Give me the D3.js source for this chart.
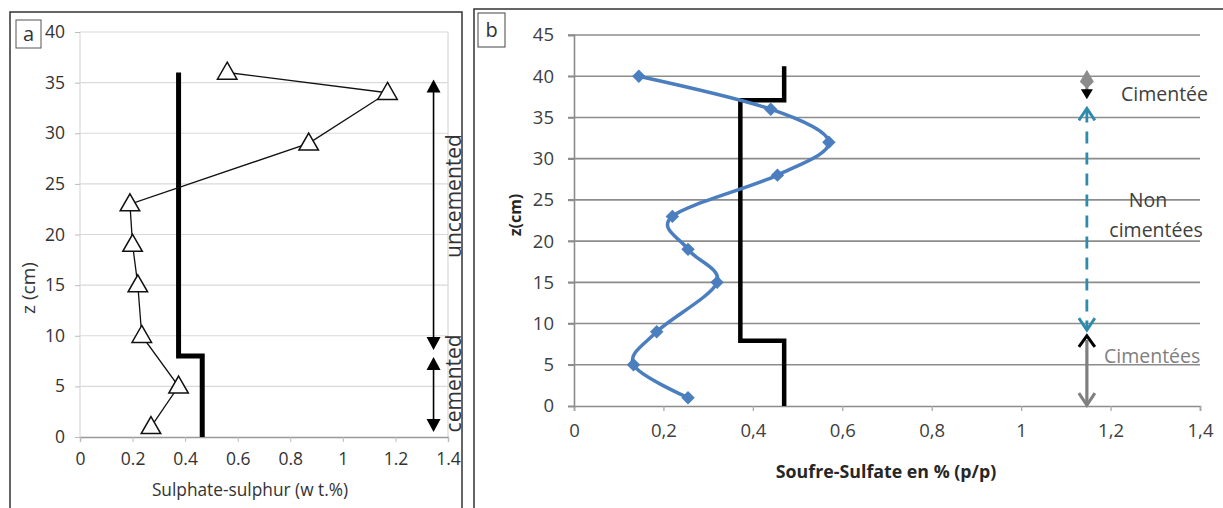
<!DOCTYPE html>
<html lang="en">
<head>
    <meta charset="UTF-8">
    <title>Sulphate-sulphur profiles</title>
    <script src="https://d3js.org/d3.v7.min.js"></script>
    <style>
        body { margin: 0; background: #fff; }
        text { font-family: "Open Sans", sans-serif; }
        .grid-a { stroke: #d9d9d9; stroke-width: 1.2; }
        .grid-b { stroke: #8c8c8c; stroke-width: 1.6; }
    </style>
</head>
<body>
    <script>
        // ---- data: panel a ----
        const aSeries = [
            { s: 0.56, z: 36 }, { s: 1.17, z: 34 }, { s: 0.87, z: 29 },
            { s: 0.19, z: 23 }, { s: 0.20, z: 19 }, { s: 0.22, z: 15 },
            { s: 0.235, z: 10 }, { s: 0.375, z: 5 }, { s: 0.27, z: 1 }
        ];
        const aStep = [
            { s: 0.375, z: 36 }, { s: 0.375, z: 8 }, { s: 0.465, z: 8 }, { s: 0.465, z: 0 }
        ];
        const aXTicks = [0, 0.2, 0.4, 0.6, 0.8, 1, 1.2, 1.4];
        const aYTicks = [0, 5, 10, 15, 20, 25, 30, 35, 40];
        const aArrows = [
            { s: 1.345, top: 35.3, bottom: 8.6 },
            { s: 1.345, top: 7.9, bottom: 0.5 }
        ];
        const aZones = [
            { label: "uncemented", z: 23.8 },
            { label: "cemented", z: 5.3 }
        ];

        // ---- data: panel b ----
        const bSeries = [
            { s: 0.145, z: 40 }, { s: 0.44, z: 36 }, { s: 0.57, z: 32 },
            { s: 0.455, z: 28 }, { s: 0.22, z: 23 }, { s: 0.255, z: 19 },
            { s: 0.32, z: 15 }, { s: 0.185, z: 9 }, { s: 0.133, z: 5 },
            { s: 0.255, z: 1 }
        ];
        const bStep = [
            { s: 0.47, z: 41.2 }, { s: 0.47, z: 37.1 }, { s: 0.372, z: 37.1 },
            { s: 0.372, z: 7.9 }, { s: 0.47, z: 7.9 }, { s: 0.47, z: 0 }
        ];
        const bXTicks = [0, 0.2, 0.4, 0.6, 0.8, 1, 1.2, 1.4];
        const bYTicks = [0, 5, 10, 15, 20, 25, 30, 35, 40, 45];
        const bArrowX = 1.147;

        const width = 1223, height = 508;
        const svg = d3.select("body").append("svg")
            .attr("width", width)
            .attr("height", height);

        // ================= panel a =================
        svg.append("rect").attr("x", 10).attr("y", 12).attr("width", 452).attr("height", 510)
            .attr("fill", "none").attr("stroke", "#333").attr("stroke-width", 1.5);
        svg.append("rect").attr("x", 16).attr("y", 20).attr("width", 25).attr("height", 28)
            .attr("fill", "none").attr("stroke", "#555").attr("stroke-width", 1);
        svg.append("text").attr("x", 28.5).attr("y", 41).attr("text-anchor", "middle")
            .attr("font-size", 20).attr("fill", "#333").text("a");

        const ax = d3.scaleLinear().domain([0, 1.4]).range([80, 448]);
        const ay = d3.scaleLinear().domain([0, 40]).range([437, 32]);
        const ga = svg.append("g");

        ga.selectAll(".grid-a").data(aYTicks.filter(d => d > 0)).enter().append("line")
            .attr("class", "grid-a")
            .attr("x1", ax(0)).attr("x2", ax(1.4))
            .attr("y1", d => ay(d)).attr("y2", d => ay(d));
        ga.append("line").attr("class", "grid-a")
            .attr("x1", ax(1.4)).attr("x2", ax(1.4)).attr("y1", ay(40)).attr("y2", ay(0));
        ga.append("line").attr("class", "grid-a")
            .attr("x1", ax(0)).attr("x2", ax(0)).attr("y1", ay(40)).attr("y2", ay(0));

        const aXAxis = ga.append("g").attr("transform", `translate(0,${ay(0)})`)
            .call(d3.axisBottom(ax).tickValues(aXTicks).tickSize(5).tickPadding(11)
                .tickFormat(d3.format("~g")));
        aXAxis.select(".domain").attr("stroke", "#999").attr("stroke-width", 1.3);
        aXAxis.selectAll(".tick line").attr("stroke", "#bbb");
        aXAxis.selectAll("text").attr("font-size", 17.5).attr("fill", "#333")
            .attr("font-family", "Open Sans, sans-serif");

        const aYAxis = ga.append("g").attr("transform", `translate(${ax(0)},0)`)
            .call(d3.axisLeft(ay).tickValues(aYTicks).tickSize(5).tickPadding(10));
        aYAxis.select(".domain").remove();
        aYAxis.selectAll(".tick line").attr("stroke", "#bbb");
        aYAxis.selectAll("text").attr("font-size", 17.5).attr("fill", "#333")
            .attr("font-family", "Open Sans, sans-serif");

        svg.append("text").attr("x", 250).attr("y", 496).attr("text-anchor", "middle")
            .attr("font-size", 17.3).attr("fill", "#333").text("Sulphate-sulphur (w t.%)");
        svg.append("text").attr("transform", "translate(35,288) rotate(-90)")
            .attr("text-anchor", "middle").attr("font-size", 19).attr("fill", "#333").text("z (cm)");

        // thick step line
        ga.append("path").datum(aStep)
            .attr("d", d3.line().x(d => ax(d.s)).y(d => ay(d.z)))
            .attr("fill", "none").attr("stroke", "#000").attr("stroke-width", 5)
            .attr("stroke-linejoin", "miter");

        // triangle series
        ga.append("path").datum(aSeries)
            .attr("d", d3.line().x(d => ax(d.s)).y(d => ay(d.z)))
            .attr("fill", "none").attr("stroke", "#111").attr("stroke-width", 1.3);
        ga.selectAll(".tri").data(aSeries).enter().append("path")
            .attr("class", "tri")
            .attr("transform", d => `translate(${ax(d.s)},${ay(d.z) + 1})`)
            .attr("d", d3.symbol().type(d3.symbolTriangle).size(165))
            .attr("fill", "#fff").attr("stroke", "#111").attr("stroke-width", 1.5);

        // zone arrows
        aArrows.forEach(a => {
            const x = ax(a.s), y1 = ay(a.top), y2 = ay(a.bottom);
            ga.append("line").attr("x1", x).attr("x2", x).attr("y1", y1 + 10).attr("y2", y2 - 10)
                .attr("stroke", "#000").attr("stroke-width", 1.6);
            ga.append("path").attr("d", `M${x},${y1}L${x - 7},${y1 + 13}L${x + 7},${y1 + 13}Z`).attr("fill", "#000");
            ga.append("path").attr("d", `M${x},${y2}L${x - 7},${y2 - 13}L${x + 7},${y2 - 13}Z`).attr("fill", "#000");
        });
        aZones.forEach(zn => {
            svg.append("text").attr("transform", `translate(461,${ay(zn.z)}) rotate(-90)`)
                .attr("text-anchor", "middle").attr("font-size", 21).attr("fill", "#333").text(zn.label);
        });

        // ================= panel b =================
        svg.append("rect").attr("x", 474).attr("y", 9).attr("width", 760).attr("height", 510)
            .attr("fill", "none").attr("stroke", "#333").attr("stroke-width", 1.5);
        svg.append("rect").attr("x", 478).attr("y", 13).attr("width", 27).attr("height", 34)
            .attr("fill", "none").attr("stroke", "#444").attr("stroke-width", 1);
        svg.append("text").attr("x", 491.5).attr("y", 37).attr("text-anchor", "middle")
            .attr("font-size", 20).attr("fill", "#333").text("b");

        const bx = d3.scaleLinear().domain([0, 1.4]).range([574, 1200]);
        const by = d3.scaleLinear().domain([0, 45]).range([406, 35]);
        const gb = svg.append("g");

        gb.selectAll(".grid-b").data(bYTicks.filter(d => d > 0)).enter().append("line")
            .attr("class", "grid-b")
            .attr("x1", bx(0) - 6).attr("x2", bx(1.4))
            .attr("y1", d => by(d)).attr("y2", d => by(d));

        const bXAxis = gb.append("g").attr("transform", `translate(0,${by(0)})`)
            .call(d3.axisBottom(bx).tickValues(bXTicks).tickSize(5).tickPadding(13)
                .tickFormat(d => d3.format("~g")(d).replace(".", ",")));
        bXAxis.select(".domain").attr("stroke", "#8c8c8c").attr("stroke-width", 1.6);
        bXAxis.selectAll(".tick line").attr("stroke", "#aaa").attr("stroke-width", 1.3);
        bXAxis.selectAll("text").attr("font-size", 18.5).attr("fill", "#404040")
            .attr("font-family", "Open Sans, sans-serif");

        const bYAxis = gb.append("g").attr("transform", `translate(${bx(0)},0)`)
            .call(d3.axisLeft(by).tickValues(bYTicks).tickSize(6).tickPadding(14));
        bYAxis.select(".domain").attr("stroke", "#8c8c8c").attr("stroke-width", 1.6);
        bYAxis.selectAll(".tick line").attr("stroke", "#8c8c8c").attr("stroke-width", 1.6);
        bYAxis.selectAll("text").attr("font-size", 18.5).attr("fill", "#404040")
            .attr("font-family", "Open Sans, sans-serif");

        svg.append("text").attr("x", 886).attr("y", 478).attr("text-anchor", "middle")
            .attr("font-size", 17.8).attr("font-weight", "bold").attr("fill", "#262626")
            .text("Soufre-Sulfate en % (p/p)");
        svg.append("text").attr("transform", "translate(521,215) rotate(-90)")
            .attr("text-anchor", "middle").attr("font-size", 16).attr("font-weight", "bold")
            .attr("fill", "#262626").text("z(cm)");

        // step line
        gb.append("path").datum(bStep)
            .attr("d", d3.line().x(d => bx(d.s)).y(d => by(d.z)))
            .attr("fill", "none").attr("stroke", "#000").attr("stroke-width", 4.5)
            .attr("stroke-linejoin", "miter");

        // smoothed blue series
        gb.append("path").datum(bSeries)
            .attr("d", d3.line().x(d => bx(d.s)).y(d => by(d.z)).curve(d3.curveCardinal.tension(0)))
            .attr("fill", "none").attr("stroke", "#4a7ebf").attr("stroke-width", 3.5);
        gb.selectAll(".dia").data(bSeries).enter().append("path")
            .attr("class", "dia")
            .attr("transform", d => `translate(${bx(d.s)},${by(d.z)}) rotate(45)`)
            .attr("d", d3.symbol().type(d3.symbolSquare).size(90))
            .attr("fill", "#4a7ebf");

        // zone arrows
        const xa = bx(bArrowX);
        // top small double arrow
        let t1 = by(40.8), t2 = by(37.2);
        gb.append("line").attr("x1", xa).attr("x2", xa).attr("y1", t1 + 6).attr("y2", t2 - 6)
            .attr("stroke", "#7f7f7f").attr("stroke-width", 3);
        gb.append("path").attr("d", `M${xa},${t1}L${xa - 7},${t1 + 12}L${xa},${t1 + 19}L${xa + 7},${t1 + 12}Z`)
            .attr("fill", "#8c8c8c");
        gb.append("path").attr("d", `M${xa},${t2}L${xa - 6},${t2 - 10}L${xa + 6},${t2 - 10}Z`).attr("fill", "#000");

        // dashed teal arrow
        const d1 = by(36.1), d2 = by(9.2);
        gb.append("line").attr("x1", xa).attr("x2", xa).attr("y1", d1 + 2).attr("y2", d2 - 2)
            .attr("stroke", "#2e8bab").attr("stroke-width", 2.8).attr("stroke-dasharray", "12,9");
        gb.append("path").attr("d", `M${xa - 8},${d1 + 12}L${xa},${d1}L${xa + 8},${d1 + 12}`)
            .attr("fill", "none").attr("stroke", "#2e8bab").attr("stroke-width", 2.8);
        gb.append("path").attr("d", `M${xa - 8},${d2 - 12}L${xa},${d2}L${xa + 8},${d2 - 12}`)
            .attr("fill", "none").attr("stroke", "#2e8bab").attr("stroke-width", 2.8);

        // bottom gray double arrow
        const c1 = by(8.5), c2 = by(0.1);
        gb.append("line").attr("x1", xa).attr("x2", xa).attr("y1", c1 + 4).attr("y2", c2 - 2)
            .attr("stroke", "#7f7f7f").attr("stroke-width", 3.2);
        gb.append("path").attr("d", `M${xa - 8},${c1 + 11}L${xa},${c1}L${xa + 8},${c1 + 11}`)
            .attr("fill", "none").attr("stroke", "#000").attr("stroke-width", 3);
        gb.append("path").attr("d", `M${xa - 8},${c2 - 12}L${xa},${c2}L${xa + 8},${c2 - 12}`)
            .attr("fill", "none").attr("stroke", "#7f7f7f").attr("stroke-width", 3);

        // zone labels
        svg.append("text").attr("x", 1121).attr("y", by(37.8)).attr("dy", "0.35em")
            .attr("font-size", 19.5).attr("fill", "#404040").text("Cimentée");
        svg.append("text").attr("x", 1148).attr("y", by(25)).attr("dy", "0.35em").attr("text-anchor", "middle")
            .attr("font-size", 19.5).attr("fill", "#404040").text("Non");
        svg.append("text").attr("x", 1156).attr("y", by(21.3)).attr("dy", "0.35em").attr("text-anchor", "middle")
            .attr("font-size", 19.5).attr("fill", "#404040").text("cimentées");
        svg.append("text").attr("x", 1104).attr("y", by(6)).attr("dy", "0.35em")
            .attr("font-size", 19.5).attr("fill", "#7f7f7f").text("Cimentées");
    </script>
</body>
</html>
